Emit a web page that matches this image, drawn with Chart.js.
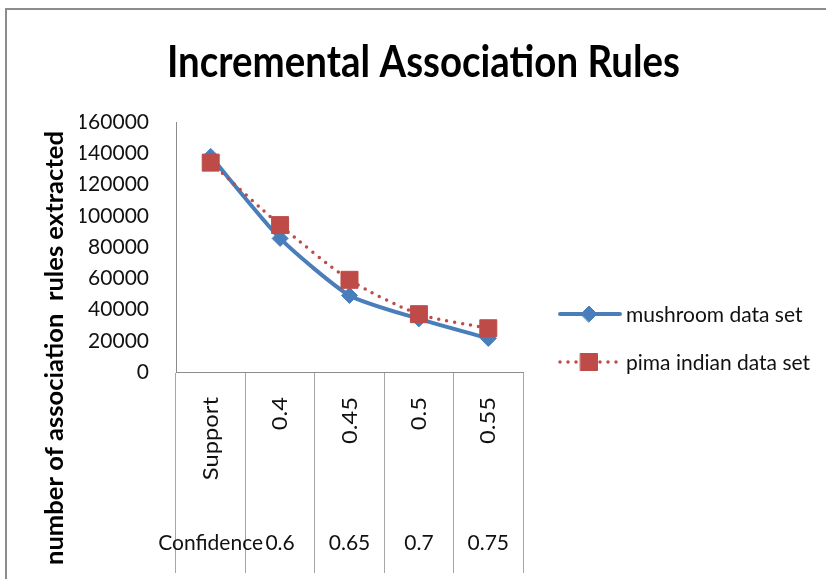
<!DOCTYPE html>
<html><head><meta charset="utf-8">
<script src="https://cdn.jsdelivr.net/npm/chart.js@4.4.1/dist/chart.umd.min.js"></script>
<style>
html,body{margin:0;padding:0;background:#fff;overflow:hidden;}
#frame{position:absolute;left:5px;top:8px;width:900px;height:700px;border-left:2px solid #8c8c8c;border-top:2px solid #8c8c8c;}
#wrap{position:absolute;left:0;top:0;width:826px;height:579px;}
</style></head><body>
<div id="frame"></div>
<div id="wrap"><canvas id="c" width="826" height="579"></canvas></div>
<script>
// ---- data ----
const chartTitle = 'Incremental Association Rules';
const yAxisTitle = 'number of association  rules extracted';
const supportLabels = ['Support', '0.4', '0.45', '0.5', '0.55'];
const confidenceLabels = ['Confidence', '0.6', '0.65', '0.7', '0.75'];
const seriesNames = ['mushroom data set', 'pima indian data set'];
const mushroomValues = [138000, 85500, 49000, 34000, 21500];
const pimaValues = [134000, 94000, 59000, 37000, 28000];
const yTickValues = [0, 20000, 40000, 60000, 80000, 100000, 120000, 140000, 160000];

// ---- style ----
const FONT = 'Lato, "Open Sans", sans-serif';
const BLUE = '#4a7ebb';
const RED = '#be4b48';
const AXIS = '#8c8c8c';
const GRID = '#a6a6a6';

function drawScaledText(ctx, text, targetW) {
  const w = ctx.measureText(text).width;
  ctx.scale(targetW / w, 1);
  ctx.fillText(text, 0, 0);
}

const overlay = {
  id: 'overlay',
  afterDraw(chart) {
    const ctx = chart.ctx;
    const xs = chart.scales.x;
    ctx.save();
    ctx.fillStyle = '#000';
    // title
    ctx.save();
    ctx.font = 'bold 43px ' + FONT;
    ctx.textAlign = 'center';
    ctx.textBaseline = 'alphabetic';
    ctx.translate(423.5, 77);
    drawScaledText(ctx, chartTitle, 513);
    ctx.restore();
    // y axis title
    ctx.save();
    ctx.font = 'bold 25px ' + FONT;
    ctx.textAlign = 'center';
    ctx.textBaseline = 'middle';
    ctx.translate(55, 348);
    ctx.rotate(-Math.PI / 2);
    drawScaledText(ctx, yAxisTitle, 434);
    ctx.restore();
    // category labels (two levels)
    ctx.fillStyle = '#111';
    supportLabels.forEach((t, i) => {
      const x = xs.getPixelForValue(i);
      ctx.save();
      ctx.font = '22px ' + FONT;
      ctx.translate(x, 397);
      ctx.rotate(-Math.PI / 2);
      ctx.textAlign = 'right';
      ctx.textBaseline = 'middle';
      drawScaledText(ctx, t, ctx.measureText(t).width * 1.08);
      ctx.restore();
    });
    confidenceLabels.forEach((t, i) => {
      const x = xs.getPixelForValue(i);
      ctx.save();
      ctx.font = '21px ' + FONT;
      ctx.textAlign = 'center';
      ctx.textBaseline = 'alphabetic';
      ctx.fillText(t, x, 550);
      ctx.restore();
    });
    // legend
    const items = [
      {name: seriesNames[0], color: BLUE, dash: [], width: 4, style: 'rectRot', r: 8, y: 314},
      {name: seriesNames[1], color: RED, dash: [0, 8], width: 3.5, style: 'rect', r: 12, y: 362}
    ];
    items.forEach(it => {
      ctx.save();
      ctx.strokeStyle = it.color;
      ctx.lineWidth = it.width;
      ctx.lineCap = 'round';
      ctx.setLineDash(it.dash);
      ctx.beginPath();
      ctx.moveTo(560, it.y);
      ctx.lineTo(620, it.y);
      ctx.stroke();
      ctx.setLineDash([]);
      ctx.fillStyle = it.color;
      ctx.lineWidth = 1;
      Chart.helpers.drawPoint(ctx, {pointStyle: it.style, radius: it.r, rotation: 0, borderWidth: 1}, 589, it.y);
      ctx.fillStyle = '#111';
      ctx.font = '21px ' + FONT;
      ctx.textAlign = 'left';
      ctx.textBaseline = 'middle';
      ctx.fillText(it.name, 626, it.y + 1);
      ctx.restore();
    });
    ctx.restore();
  }
};

new Chart(document.getElementById('c'), {
  type: 'line',
  data: {
    labels: supportLabels.map((s, i) => [s, confidenceLabels[i]]),
    datasets: [
      {
        label: seriesNames[0], data: mushroomValues, order: 1,
        borderColor: BLUE, backgroundColor: BLUE, borderWidth: 4,
        pointStyle: 'rectRot', pointRadius: 8, pointBorderWidth: 1,
        pointBackgroundColor: BLUE, pointBorderColor: BLUE,
        tension: 0.2, fill: false
      },
      {
        label: seriesNames[1], data: pimaValues, order: 0,
        borderColor: RED, backgroundColor: RED, borderWidth: 3.5,
        borderDash: [0, 8], borderCapStyle: 'round',
        pointStyle: 'rect', pointRadius: 12, pointBorderWidth: 1,
        pointBackgroundColor: RED, pointBorderColor: RED,
        tension: 0.25, fill: false
      }
    ]
  },
  options: {
    responsive: false,
    animation: false,
    devicePixelRatio: 1,
    layout: {padding: {left: 80, top: 122, right: 303, bottom: 6}},
    plugins: {legend: {display: false}, title: {display: false}, tooltip: {enabled: false}},
    scales: {
      x: {
        type: 'category',
        offset: true,
        grid: {display: true, drawOnChartArea: false, drawTicks: true, tickLength: 201, offset: true, color: GRID, lineWidth: 1},
        border: {display: true, color: AXIS, width: 1},
        ticks: {display: false},
        afterFit(s) { s.height = 201; }
      },
      y: {
        min: 0, max: 160000,
        grid: {display: false},
        border: {display: true, color: AXIS, width: 1},
        ticks: {font: {family: FONT, size: 21}, color: '#111', padding: 19, callback: v => String(v)},
        afterBuildTicks(s) { s.ticks = yTickValues.map(v => ({value: v})); },
        afterFit(s) { s.width = 96; }
      }
    }
  },
  plugins: [overlay]
});
</script>
</body></html>
